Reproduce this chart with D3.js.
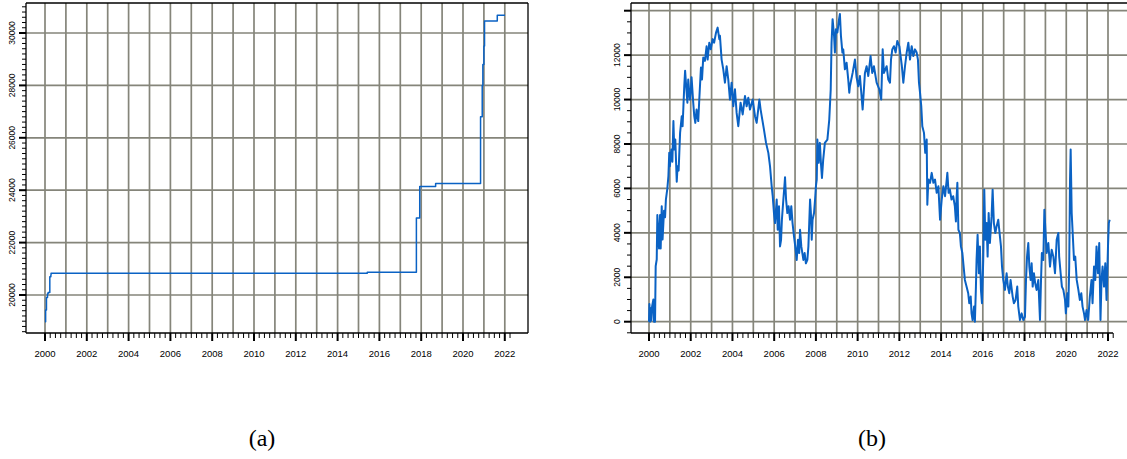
<!DOCTYPE html>
<html>
<head>
<meta charset="utf-8">
<script src="https://cdn.jsdelivr.net/npm/d3@7"></script>
<style>
  body { margin: 0; background: #fff; }
  svg { display: block; }
</style>
</head>
<body>
<svg id="chart" width="1127" height="459"></svg>
<script>
// panel (a): step series, [year, value] change points
const seriesA = [
  [2000.00, 18980], [2000.03, 19430], [2000.07, 19900], [2000.12, 20050], [2000.15, 20100],
  [2000.23, 20700], [2000.28, 20750], [2000.29, 20830], [2015.42, 20870], [2017.77, 22940],
  [2017.93, 24140], [2018.69, 24260], [2020.84, 26800], [2020.92, 28000], [2020.95, 28800],
  [2021.00, 29500], [2021.03, 30460], [2021.64, 30680], [2022.01, 30680]
];

// panel (b)
const seriesB = [
  [2000.00, 0], [2000.02, 800], [2000.05, 0], [2000.08, 600], [2000.11, 50], [2000.15, 700],
  [2000.21, 1000], [2000.24, 0], [2000.29, 0], [2000.32, 2500], [2000.37, 2800], [2000.40, 4800],
  [2000.48, 3300], [2000.53, 4800], [2000.56, 3300], [2000.61, 5200], [2000.65, 3700], [2000.72, 5000],
  [2000.77, 4700], [2000.81, 5500], [2000.88, 6000], [2000.93, 6550], [2000.97, 7600], [2001.00, 7000],
  [2001.07, 7750], [2001.12, 7200], [2001.17, 9030], [2001.21, 7750], [2001.26, 8200], [2001.33, 6300],
  [2001.37, 7000], [2001.42, 6800], [2001.49, 8500], [2001.57, 9250], [2001.61, 8800], [2001.65, 9700],
  [2001.69, 10600], [2001.73, 11300], [2001.77, 10760], [2001.84, 9860], [2001.88, 10900], [2001.96, 10000],
  [2002.01, 10460], [2002.04, 11000], [2002.12, 9860], [2002.17, 9250], [2002.22, 8950], [2002.28, 9550],
  [2002.36, 9030], [2002.41, 10000], [2002.49, 11440], [2002.54, 10900], [2002.60, 11890], [2002.68, 11740],
  [2002.76, 12400], [2002.81, 11800], [2002.89, 12560], [2002.96, 12260], [2003.05, 12720], [2003.12, 12560],
  [2003.21, 13000], [2003.29, 13240], [2003.37, 12720], [2003.40, 12870], [2003.48, 11800], [2003.56, 11360],
  [2003.64, 10760], [2003.72, 11500], [2003.80, 10900], [2003.88, 10000], [2003.96, 10760], [2004.04, 9700],
  [2004.12, 10460], [2004.20, 9400], [2004.28, 8800], [2004.39, 9860], [2004.49, 9330], [2004.60, 10160],
  [2004.68, 9700], [2004.76, 10080], [2004.84, 9550], [2004.97, 10000], [2005.08, 9250], [2005.16, 8950],
  [2005.29, 10000], [2005.35, 9550], [2005.43, 9100], [2005.51, 8650], [2005.61, 8050], [2005.72, 7600],
  [2005.80, 7000], [2005.88, 6100], [2005.93, 5650], [2005.99, 4890], [2006.04, 4440], [2006.12, 5500],
  [2006.17, 4140], [2006.23, 5200], [2006.28, 3390], [2006.33, 3690], [2006.37, 4590], [2006.44, 5500],
  [2006.49, 6100], [2006.52, 6500], [2006.57, 5500], [2006.63, 4890], [2006.69, 5200], [2006.76, 4590],
  [2006.82, 5200], [2006.88, 4440], [2006.95, 3840], [2007.01, 3390], [2007.08, 2780], [2007.14, 3690],
  [2007.20, 3090], [2007.24, 4140], [2007.30, 3390], [2007.40, 2780], [2007.46, 3090], [2007.52, 2630],
  [2007.59, 2780], [2007.64, 3390], [2007.68, 4440], [2007.72, 5500], [2007.76, 4890], [2007.80, 3690],
  [2007.84, 4590], [2007.91, 4890], [2007.96, 5500], [2008.00, 6100], [2008.04, 6400], [2008.07, 8200],
  [2008.13, 7150], [2008.19, 8050], [2008.24, 7150], [2008.29, 6470], [2008.35, 7300], [2008.43, 8050],
  [2008.55, 8200], [2008.64, 9100], [2008.71, 10460], [2008.75, 12560], [2008.80, 13620], [2008.87, 12870],
  [2008.91, 12115], [2008.96, 13170], [2009.03, 13020], [2009.11, 13620], [2009.15, 13850], [2009.20, 12870],
  [2009.27, 12115], [2009.31, 12260], [2009.39, 11360], [2009.47, 11660], [2009.55, 10900], [2009.60, 10310],
  [2009.63, 10600], [2009.76, 11200], [2009.87, 11800], [2009.95, 11000], [2010.03, 10600], [2010.11, 11060],
  [2010.24, 9550], [2010.35, 11200], [2010.43, 11500], [2010.51, 11060], [2010.62, 11960], [2010.70, 11200],
  [2010.78, 11500], [2010.91, 10760], [2011.04, 10460], [2011.13, 10000], [2011.20, 12260], [2011.26, 11200],
  [2011.33, 11360], [2011.39, 11500], [2011.47, 10900], [2011.55, 10760], [2011.60, 11800], [2011.66, 12260],
  [2011.74, 12400], [2011.82, 12115], [2011.90, 12640], [2012.00, 12400], [2012.06, 11960], [2012.12, 11500],
  [2012.19, 10760], [2012.27, 11500], [2012.35, 12115], [2012.43, 12560], [2012.51, 11800], [2012.59, 12400],
  [2012.67, 11960], [2012.75, 12260], [2012.83, 12115], [2012.89, 11800], [2012.94, 10760], [2012.99, 10310],
  [2013.05, 9700], [2013.10, 8800], [2013.18, 8500], [2013.24, 7600], [2013.31, 8200], [2013.34, 5270],
  [2013.39, 6400], [2013.47, 6250], [2013.55, 6700], [2013.63, 6250], [2013.71, 6400], [2013.79, 5800],
  [2013.87, 6100], [2013.95, 4590], [2014.03, 5500], [2014.11, 6100], [2014.19, 5650], [2014.27, 6400],
  [2014.30, 6700], [2014.36, 5800], [2014.42, 5950], [2014.50, 5500], [2014.58, 5650], [2014.66, 5190],
  [2014.71, 4510], [2014.74, 5500], [2014.78, 6250], [2014.83, 4140], [2014.90, 3990], [2014.95, 3390],
  [2015.02, 3090], [2015.08, 2480], [2015.14, 1880], [2015.22, 1580], [2015.30, 1280], [2015.35, 830],
  [2015.42, 1130], [2015.46, 375], [2015.51, 75], [2015.58, 680], [2015.62, 0], [2015.67, 1580],
  [2015.70, 2785], [2015.75, 3910], [2015.81, 2180], [2015.86, 3390], [2015.91, 1430], [2015.96, 830],
  [2016.02, 2780], [2016.07, 5945], [2016.12, 3690], [2016.18, 4440], [2016.23, 2930], [2016.28, 4890],
  [2016.34, 3540], [2016.42, 4740], [2016.47, 5945], [2016.53, 4440], [2016.60, 3990], [2016.66, 4290],
  [2016.74, 4590], [2016.82, 3840], [2016.87, 3390], [2016.92, 2480], [2016.98, 1880], [2017.06, 1430],
  [2017.14, 2180], [2017.20, 1580], [2017.27, 1280], [2017.33, 1880], [2017.43, 1130], [2017.49, 830],
  [2017.57, 980], [2017.65, 1580], [2017.70, 680], [2017.78, 75], [2017.86, 375], [2017.94, 75],
  [2018.02, 225], [2018.07, 1880], [2018.12, 2930], [2018.18, 3540], [2018.23, 2480], [2018.29, 1880],
  [2018.34, 2630], [2018.39, 1580], [2018.45, 2180], [2018.51, 1730], [2018.58, 1430], [2018.66, 1880],
  [2018.74, 75], [2018.79, 1880], [2018.83, 3090], [2018.90, 2780], [2018.95, 5040], [2019.00, 4140],
  [2019.06, 3090], [2019.14, 3540], [2019.22, 2480], [2019.30, 3240], [2019.38, 2930], [2019.46, 2180],
  [2019.54, 3690], [2019.62, 3990], [2019.66, 2930], [2019.73, 2180], [2019.79, 1580], [2019.86, 1430],
  [2019.94, 980], [2019.98, 375], [2020.05, 1280], [2020.10, 680], [2020.14, 2480], [2020.18, 6400],
  [2020.21, 7750], [2020.26, 4890], [2020.30, 4140], [2020.37, 2780], [2020.43, 2930], [2020.50, 1880],
  [2020.58, 1430], [2020.65, 980], [2020.72, 1280], [2020.78, 680], [2020.85, 375], [2020.90, 75],
  [2020.97, 525], [2021.05, 75], [2021.13, 1130], [2021.21, 1880], [2021.26, 830], [2021.33, 2480],
  [2021.39, 1880], [2021.45, 3390], [2021.52, 2180], [2021.58, 3540], [2021.64, 75], [2021.69, 1880],
  [2021.74, 2480], [2021.81, 1580], [2021.87, 2630], [2021.93, 980], [2022.00, 3390], [2022.04, 4440],
  [2022.08, 4590]
];

const yearTicks = d3.range(2000, 2023);
const yearLabels = d3.range(2000, 2023, 2);
const quarterTicks = d3.range(2000, 2022.3, 0.25);
const yMajorA = d3.range(20000, 30001, 2000);
const yMinorA = d3.range(18600, 31001, 200);
const yMajorB = d3.range(0, 14001, 2000);
const yMinorB = d3.range(-500, 14001, 500);
const captions = ["(a)", "(b)"];

const gridColor = "#85857a";
const lineColor = "#0a62c4";
const svg = d3.select("#chart");

function drawPanel(p) {
  const g = svg.append("g");
  const x = d3.scaleLinear().domain([2000, 2022]).range([p.x0, p.x22]);
  const y = d3.scaleLinear().domain(p.yDomain).range(p.yRange);

  // grid
  g.selectAll(".vgrid").data(yearTicks).enter().append("line")
    .attr("x1", d => x(d)).attr("x2", d => x(d))
    .attr("y1", p.top).attr("y2", p.bottom)
    .attr("stroke", gridColor).attr("stroke-width", 1.7);
  g.selectAll(".hgrid").data(p.yMajor).enter().append("line")
    .attr("x1", p.left).attr("x2", p.right)
    .attr("y1", d => y(d)).attr("y2", d => y(d))
    .attr("stroke", gridColor).attr("stroke-width", 1.7);

  // series
  const line = d3.line().x(d => x(d[0])).y(d => y(d[1]));
  if (p.step) line.curve(d3.curveStepAfter);
  g.append("path").datum(p.data)
    .attr("d", line)
    .attr("fill", "none")
    .attr("stroke", lineColor)
    .attr("stroke-width", p.step ? 1.5 : 2)
    .attr("stroke-linejoin", "round");

  // frame
  g.append("line").attr("x1", p.left).attr("x2", p.left).attr("y1", p.top).attr("y2", p.bottom)
    .attr("stroke", "#000").attr("stroke-width", 1.3);
  g.append("line").attr("x1", p.left).attr("x2", p.right).attr("y1", p.top).attr("y2", p.top)
    .attr("stroke", "#000").attr("stroke-width", 1.3);
  g.append("line").attr("x1", p.left).attr("x2", p.axisRight).attr("y1", p.bottom).attr("y2", p.bottom)
    .attr("stroke", "#000").attr("stroke-width", 1.3);
  if (p.rightFrame) {
    g.append("line").attr("x1", p.right).attr("x2", p.right).attr("y1", p.top).attr("y2", p.bottom)
      .attr("stroke", "#000").attr("stroke-width", 1.3);
  }

  // x ticks
  g.selectAll(".xminor").data(quarterTicks).enter().append("line")
    .attr("x1", d => x(d)).attr("x2", d => x(d))
    .attr("y1", p.bottom).attr("y2", d => p.bottom + (yearLabels.includes(d) ? 8 : 5))
    .attr("stroke", "#000")
    .attr("stroke-width", d => yearLabels.includes(d) ? 2 : 1);
  g.selectAll(".xlab").data(yearLabels).enter().append("text")
    .attr("x", d => x(d)).attr("y", p.bottom + 24)
    .attr("text-anchor", "middle")
    .attr("font-family", "Liberation Sans, Arial, sans-serif")
    .attr("font-size", 9.5)
    .text(d => d);

  // y ticks
  g.selectAll(".yminor").data(p.yMinor).enter().append("line")
    .attr("x1", p.left).attr("x2", d => p.left - (d % 2000 === 0 ? 7 : 4))
    .attr("y1", d => y(d)).attr("y2", d => y(d))
    .attr("stroke", "#000")
    .attr("stroke-width", d => d % 2000 === 0 ? 2 : 1);
  g.selectAll(".ylab").data(p.yLabels).enter().append("text")
    .attr("transform", d => `translate(${p.left - 11},${y(d)}) rotate(-90)`)
    .attr("text-anchor", "middle")
    .attr("font-family", "Liberation Sans, Arial, sans-serif")
    .attr("font-size", 8.5)
    .text(d => d);

  // caption
  svg.append("text")
    .attr("x", p.capX).attr("y", 446)
    .attr("text-anchor", "middle")
    .attr("font-family", "Liberation Serif, Times New Roman, serif")
    .attr("font-size", 24)
    .text(p.caption);
}

drawPanel({
  data: seriesA, step: true,
  x0: 45, x22: 504.8,
  yDomain: [20000, 30000], yRange: [295, 33],
  yMajor: yMajorA, yMinor: yMinorA, yLabels: yMajorA,
  left: 26, right: 528, top: 3, bottom: 333, axisRight: 528, rightFrame: true,
  capX: 262, caption: captions[0]
});

drawPanel({
  data: seriesB, step: false,
  x0: 649, x22: 1108,
  yDomain: [0, 14000], yRange: [321.7, 10.7],
  yMajor: yMajorB, yMinor: yMinorB, yLabels: yMajorB.filter(d => d < 14000),
  left: 631, right: 1130, top: 3, bottom: 333, axisRight: 1113, rightFrame: false,
  capX: 872, caption: captions[1]
});
</script>
</body>
</html>
